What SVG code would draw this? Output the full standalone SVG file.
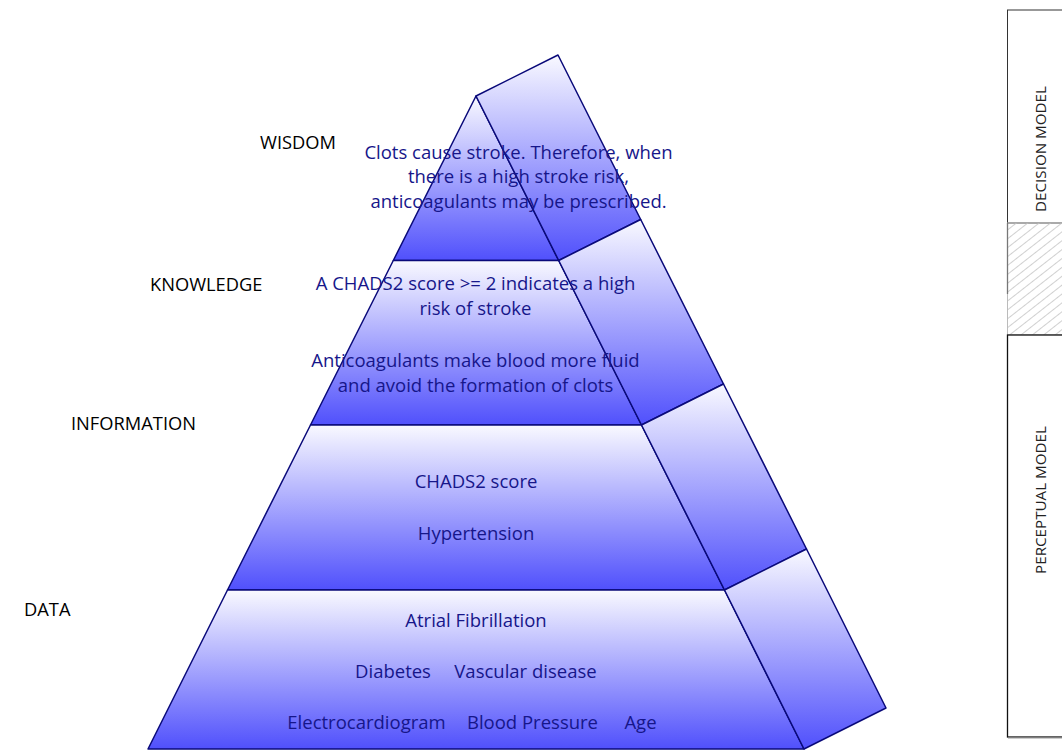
<svg xmlns="http://www.w3.org/2000/svg" width="1062" height="751" viewBox="0 0 1062 751">
<style>
.face{stroke:#0a0a7a;stroke-width:1.5;stroke-linejoin:round;fill:url(#grad)}
.t{font-family:"Open Sans","Liberation Sans",sans-serif;font-size:18.5px;fill:#16168a;text-anchor:middle}
.lbl{font-family:"Open Sans","Liberation Sans",sans-serif;font-size:18.3px;fill:#000}
.side{font-family:"Open Sans","Liberation Sans",sans-serif;font-size:15.2px;fill:#222;text-anchor:middle}
</style>
<defs>
<linearGradient id="grad" x1="0" y1="0" x2="0" y2="1">
<stop offset="0" stop-color="#f9f9ff"/>
<stop offset="1" stop-color="#5050fc"/>
</linearGradient>
<pattern id="hatch" patternUnits="userSpaceOnUse" width="12" height="7" patternTransform="rotate(-38)">
<line x1="0" y1="3.5" x2="12" y2="3.5" stroke="#c4c4c4" stroke-width="0.8"/>
</pattern>
</defs>
<rect width="1062" height="751" fill="#fff"/>

<g id="labels">
<text class="lbl" x="260" y="149">WISDOM</text>
<text class="lbl" x="150" y="291">KNOWLEDGE</text>
<text class="lbl" x="71" y="430">INFORMATION</text>
<text class="lbl" x="24" y="616">DATA</text>
</g>

<g id="wisdom">
<polygon class="face" points="476,96 558.7,260.5 393.3,260.5"/>
<polygon class="face" points="476,96 558,55 640.7,219.5 558.7,260.5"/>
<text class="t" x="518.5" y="159">Clots cause stroke. Therefore, when</text>
<text class="t" x="518.5" y="183">there is a high stroke risk,</text>
<text class="t" x="518.5" y="208">anticoagulants may be prescribed.</text>
</g>

<g id="knowledge">
<polygon class="face" points="393.3,260.5 558.7,260.5 641.5,425 310.5,425"/>
<polygon class="face" points="558.7,260.5 640.7,219.5 723.5,384 641.5,425"/>
<text class="t" x="475.5" y="290">A CHADS2 score &gt;= 2 indicates a high</text>
<text class="t" x="475.5" y="315">risk of stroke</text>
<text class="t" x="475.5" y="367">Anticoagulants make blood more fluid</text>
<text class="t" x="475.5" y="392">and avoid the formation of clots</text>
</g>

<g id="information">
<polygon class="face" points="310.5,425 641.5,425 724.5,590 227.5,590"/>
<polygon class="face" points="641.5,425 723.5,384 806.5,549 724.5,590"/>
<text class="t" x="476" y="488">CHADS2 score</text>
<text class="t" x="476" y="540">Hypertension</text>
</g>

<g id="data">
<polygon class="face" points="227.5,590 724.5,590 804,749 148,749"/>
<polygon class="face" points="724.5,590 806.5,549 886,708 804,749"/>
<text class="t" x="476" y="627">Atrial Fibrillation</text>
<text class="t" x="393" y="678">Diabetes</text>
<text class="t" x="525.5" y="678">Vascular disease</text>
<text class="t" x="366.5" y="729">Electrocardiogram</text>
<text class="t" x="532.5" y="729">Blood Pressure</text>
<text class="t" x="640.5" y="729">Age</text>
</g>

<g id="decision-model">
<rect x="1007.5" y="10" width="60" height="213" fill="#fff" stroke="#333" stroke-width="1"/>
<text class="side" transform="translate(1045.5,149) rotate(-90)">DECISION MODEL</text>
</g>
<g id="overlap">
<rect x="1007.5" y="223" width="60" height="112" fill="url(#hatch)" stroke="#bbb" stroke-width="1"/>
<line x1="1007.5" y1="223" x2="1007.5" y2="294" stroke="#777" stroke-width="1.3"/>
</g>
<g id="perceptual-model">
<rect x="1007.5" y="335" width="60" height="402" fill="#fff" stroke="#111" stroke-width="1.3"/>
<line x1="1008" y1="738" x2="1062" y2="738" stroke="#999" stroke-width="1"/>
<text class="side" transform="translate(1045.5,500) rotate(-90)">PERCEPTUAL MODEL</text>
</g>

<g id="connectors"></g>
</svg>
